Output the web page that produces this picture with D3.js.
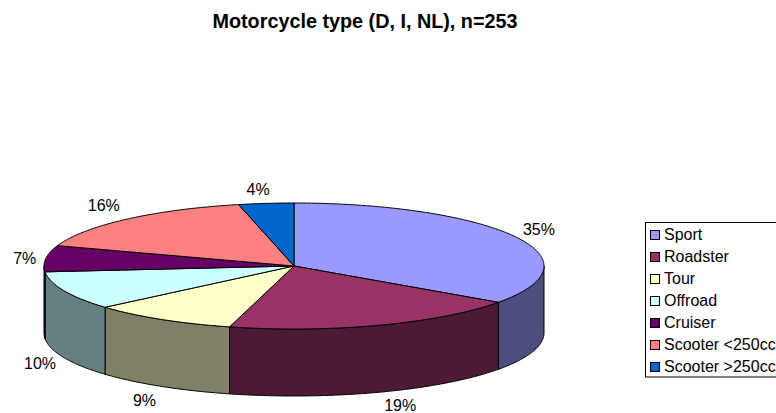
<!DOCTYPE html>
<html>
<head>
<meta charset="utf-8">
<script src="https://cdn.jsdelivr.net/npm/d3@7"></script>
<style>
  html, body { margin: 0; padding: 0; background: #fff; overflow: hidden; }
  svg { display: block; font-family: "Liberation Sans", Arial, sans-serif; }
</style>
</head>
<body>
<svg id="chart" width="776" height="413"></svg>
<script>
// ─── Data ─────────────────────────────────────────────────────────────────────
const categories = ['Sport','Roadster','Tour','Offroad','Cruiser','Scooter <250cc','Scooter >250cc'];
const counts     = [88, 49, 24, 25, 17, 41, 9];
const colors     = ['#9999FF','#993366','#FFFFCC','#CCFFFF','#660066','#FF8080','#0066CC'];
const sideColors = ['#4D4D80','#4D1A33','#808066','#668080','#330033','#804040','#003366'];
const chartTitle = 'Motorcycle type (D, I, NL), n=253';

// ─── Layout ───────────────────────────────────────────────────────────────────
const cx = 294, cy = 266, rx = 250, ry = 63, depth = 67;
const labelNudge = [[23,-2],[21,19],[-17,20],[-24,11],[-21,5],[-23,-8],[-8,-8]];

const svg = d3.select('#chart');
const total = d3.sum(counts);

const slices = d3.pie().sort(null).value(d => d)(counts);

const px = a => cx + rx * Math.sin(a);
const py = a => cy - ry * Math.cos(a);
const line = d3.line();

function arcPoints(a0, a1) {
  const n = Math.max(2, Math.ceil((a1 - a0) / 0.01));
  return d3.range(n + 1).map(i => {
    const a = a0 + (a1 - a0) * i / n;
    return [px(a), py(a)];
  });
}

// ─── Side walls (front half only) ─────────────────────────────────────────────
const front0 = Math.PI / 2, front1 = Math.PI * 1.5;
slices.forEach((s, i) => {
  const a0 = Math.max(s.startAngle, front0), a1 = Math.min(s.endAngle, front1);
  if (a1 <= a0) return;
  const top = arcPoints(a0, a1);
  const bottom = top.map(([x, y]) => [x, y + depth]).reverse();
  svg.append('path')
    .attr('d', line(top.concat(bottom)) + 'Z')
    .attr('fill', sideColors[i])
    .attr('stroke', '#000').attr('stroke-width', 1).attr('stroke-linejoin', 'round');
});

// ─── Top face ─────────────────────────────────────────────────────────────────
slices.forEach((s, i) => {
  svg.append('path')
    .attr('d', line([[cx, cy]].concat(arcPoints(s.startAngle, s.endAngle))) + 'Z')
    .attr('fill', colors[i])
    .attr('stroke', '#000').attr('stroke-width', 1).attr('stroke-linejoin', 'round');
});

// ─── Percent labels ───────────────────────────────────────────────────────────
slices.forEach((s, i) => {
  const mid = (s.startAngle + s.endAngle) / 2;
  const wall = (mid > front0 && mid < front1) ? depth : 0;
  svg.append('text')
    .attr('x', px(mid) + labelNudge[i][0])
    .attr('y', py(mid) + wall + labelNudge[i][1])
    .attr('text-anchor', 'middle')
    .attr('font-size', 16).attr('fill', '#000')
    .text(Math.round(s.data / total * 100) + '%');
});

// ─── Title ────────────────────────────────────────────────────────────────────
svg.append('text')
  .attr('x', 365).attr('y', 28)
  .attr('text-anchor', 'middle')
  .attr('font-size', 19.8).attr('font-weight', 'bold').attr('fill', '#000')
  .text(chartTitle);

// ─── Legend ───────────────────────────────────────────────────────────────────
const legendY = d3.scaleBand().domain(categories).range([224, 378]);

svg.append('rect')
  .attr('x', 645.5).attr('y', 222.5).attr('width', 160).attr('height', 154.5)
  .attr('fill', '#fff').attr('stroke', '#000').attr('stroke-width', 1);

const row = svg.selectAll('.lg').data(categories).enter().append('g')
  .attr('class', 'lg')
  .attr('transform', d => `translate(0,${legendY(d)})`);

row.append('rect')
  .attr('x', 650.5).attr('y', 6.5).attr('width', 9).attr('height', 9)
  .attr('fill', (d, i) => colors[i])
  .attr('stroke', '#000').attr('stroke-width', 1);

row.append('text')
  .attr('x', 664).attr('y', 16)
  .attr('font-size', 16).attr('fill', '#000')
  .text(d => d);
</script>
</body>
</html>
